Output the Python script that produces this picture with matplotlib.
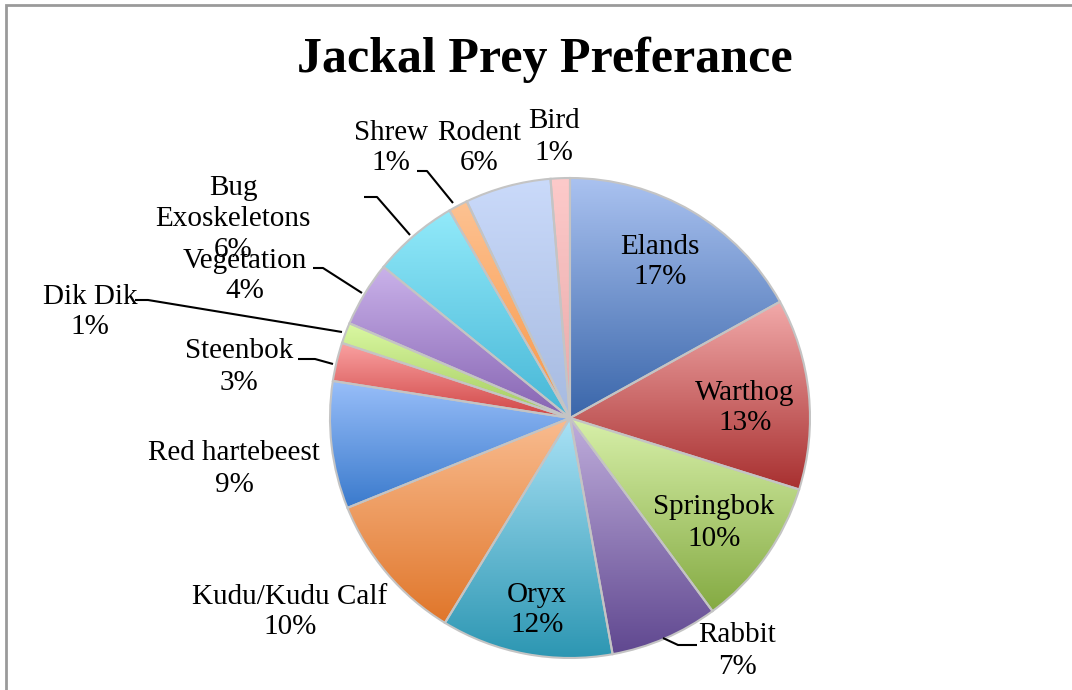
import numpy as np
import matplotlib
matplotlib.use('Agg')
import matplotlib.pyplot as plt
from matplotlib.colors import LinearSegmentedColormap
from matplotlib.patches import Rectangle

# data (share of diet)
prey = ['Elands', 'Warthog', 'Springbok', 'Rabbit', 'Oryx', 'Kudu/Kudu Calf',
        'Red hartebeest', 'Steenbok', 'Dik Dik', 'Vegetation', 'Bug\nExoskeletons',
        'Shrew', 'Rodent', 'Bird']
share = [17.0, 12.9, 10.1, 7.3, 11.6, 10.2, 8.6, 2.6, 1.4, 4.4, 5.8, 1.3, 5.8, 1.3]

# gradient colours, (top, bottom)
grads = [('#aac2f0', '#3a66aa'), ('#f2aaaa', '#a83030'), ('#d8f0aa', '#84aa42'),
         ('#c0aedc', '#604890'), ('#aae2f6', '#2c96b2'), ('#f9bc90', '#e0762a'),
         ('#98bef9', '#3a7acc'), ('#faa2a2', '#d04646'), ('#daf8a2', '#a2ca5e'),
         ('#cab2ea', '#8664b2'), ('#92eafa', '#46b6d6'), ('#fdc292', '#f89646'),
         ('#cadafa', '#a6bae0'), ('#fdcaca', '#e8a8a8')]

W, H = 1072, 690
cx, cy, R = 570, H - 418, 240

fig = plt.figure(figsize=(W / 100, H / 100), dpi=100)
ax = fig.add_axes([0, 0, 1, 1])
plt.rcParams['font.family'] = 'Liberation Serif'

wedges, _ = ax.pie(share, center=(cx, cy), radius=R, startangle=90, counterclock=False,
                   wedgeprops=dict(edgecolor='#c4c4c4', linewidth=1.5))
ax.set_xlim(0, W)
ax.set_ylim(0, H)
ax.set_aspect('equal')
ax.axis('off')

for w, (ctop, cbot) in zip(wedges, grads):
    v = w.get_path().vertices
    cm = LinearSegmentedColormap.from_list('g', [cbot, ctop])
    im = ax.imshow(np.linspace(0, 1, 256).reshape(-1, 1), cmap=cm, origin='lower',
                   extent=[v[:, 0].min(), v[:, 0].max(), v[:, 1].min(), v[:, 1].max()],
                   aspect='auto', zorder=1)
    im.set_clip_path(w)
    w.set_facecolor('none')
    w.set_zorder(2)

ax.set_xlim(0, W)
ax.set_ylim(0, H)

total = sum(share)
pct = [round(s / total * 100) for s in share]

# label positions in pixels (x, y from top)
lab_pos = [(660, 262), (745, 408), (714, 523), (737, 651), (537, 610), (290, 612),
           (234, 469), (239, 367), (90, 312), (245, 276), (233, 219), (391, 148),
           (479, 148), (554, 137)]
for name, p, (x, y) in zip(prey, pct, lab_pos):
    ax.text(x, H - y, f'{name}\n{p}%', ha='center', va='center', fontsize=21,
            linespacing=1.25, color='black', zorder=5)

# leader lines
leaders = [
    [(697, 645), (678, 645), (663, 638)],
    [(298, 359), (315, 359), (333, 364)],
    [(135, 300), (148, 300), (342, 332)],
    [(313, 268), (323, 268), (362, 293)],
    [(364, 197), (377, 197), (410, 235)],
    [(417, 171), (427, 171), (453, 203)],
]
for pts in leaders:
    xs = [p[0] for p in pts]
    ys = [H - p[1] for p in pts]
    ax.plot(xs, ys, color='black', lw=1.5, zorder=4, solid_capstyle='butt')

ax.text(545, H - 60, 'Jackal Prey Preferance', ha='center', va='center',
        fontsize=36, fontweight='bold', zorder=5)

# chart frame
fig.patches.append(Rectangle((6 / W, -0.1), 1.2, (H - 5) / H + 0.1, transform=fig.transFigure,
                             fill=False, edgecolor='#9a9a9a', lw=2))

fig.savefig('out.png', dpi=100)
